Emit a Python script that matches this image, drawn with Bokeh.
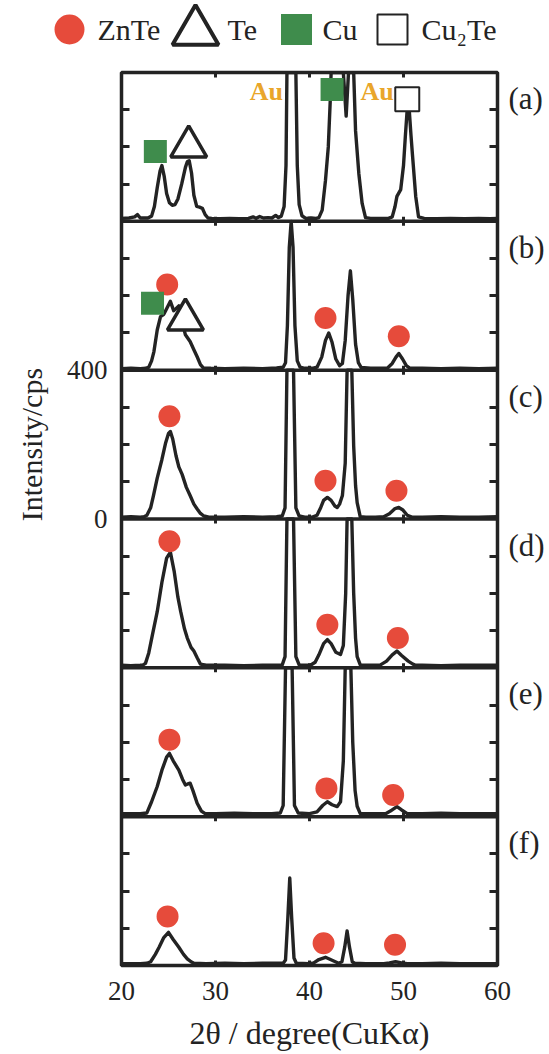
import numpy as np
from math import pi
from bokeh.plotting import figure
from bokeh.layouts import column, row
from bokeh.models import Range1d, LinearAxis, FixedTicker, Span
from bokeh.core.properties import value
from bokeh.embed import file_html
from bokeh.resources import INLINE

# ---------------- data ----------------
panels = ["a", "b", "c", "d", "e", "f"]
panel_full_scale = 400          # cps shown in each panel
x_ticks = [20, 30, 40, 50, 60]
panel_y_ticks = [100, 200, 300]

# XRD traces, 2theta (deg) and intensity (cps); values at 400 mark where the
# trace leaves the top of its panel
tt_a = [20.0, 20.8, 21.4, 21.7, 22.0, 22.8, 23.2, 23.5, 23.8, 24.1, 24.3, 24.55, 24.8, 25.1, 25.4,
        25.7, 26.0, 26.4, 26.8, 27.0, 27.2, 27.45, 27.7, 28.0, 28.3, 28.6, 28.9, 29.2, 29.6, 30.5,
        31.5, 32.5, 33.5, 34.0, 34.3, 34.7, 35.1, 35.6, 36.0, 36.4, 36.7, 37.0, 37.3, 37.5, 37.6,
        38.55, 38.7, 38.9, 39.2, 39.6, 40.2, 40.7, 41.0, 41.35, 41.7, 42.0, 42.2, 42.3, 43.6, 43.9,
        44.15, 44.7, 44.9, 45.25, 45.6, 45.96, 46.5, 47.5, 48.4, 48.8, 49.1, 49.3, 49.7, 50.0,
        50.2, 50.5, 50.8, 50.95, 51.3, 51.6, 52.2, 53.5, 55.0, 56.5, 58.0, 59.2, 60.0]
cps_a = [8, 9, 12, 18, 9, 9, 14, 40, 90, 135, 150, 120, 75, 50, 43,
         45, 60, 100, 145, 160, 163, 130, 70, 40, 38, 35, 18, 9, 8, 7,
         8, 7, 8, 12, 8, 13, 9, 10, 9, 16, 10, 14, 40, 150, 400,
         400, 150, 45, 15, 8, 9, 8, 10, 30, 110, 200, 320, 400, 400, 283,
         400, 400, 243, 128, 48, 10, 8, 8, 8, 12, 40, 67, 85, 150,
         230, 340, 230, 180, 67, 12, 8, 7, 8, 7, 8, 7, 8]

tt_b = [20.0, 21.0, 22.0, 22.6, 22.9, 23.2, 23.45, 23.8, 24.15, 24.5, 24.8, 25.2, 25.55, 25.8,
        26.1, 26.45, 26.8, 27.3, 27.7, 28.05, 28.4, 28.7, 29.5, 31.0, 33.0, 35.0, 36.5, 37.2,
        37.45, 37.65, 37.85, 38.05, 38.25, 38.45, 38.7, 39.0, 39.5, 40.3, 40.8, 41.3, 41.7, 42.05,
        42.4, 42.8, 43.2, 43.5, 43.8, 44.1, 44.35, 44.6, 44.9, 45.2, 45.5, 46.5, 47.5, 48.3, 48.8,
        49.2, 49.5, 49.9, 50.3, 50.7, 52.0, 54.0, 56.0, 58.0, 60.0]
cps_b = [4, 5, 4, 5, 8, 25, 50, 108, 144, 150, 165, 185, 160, 165,
         173, 130, 95, 77, 55, 36, 15, 6, 5, 4, 5, 4, 6, 8,
         20, 120, 330, 400, 330, 120, 25, 8, 5, 5, 8, 35, 80, 100,
         75, 30, 12, 18, 80, 200, 267, 190, 70, 20, 7, 5, 5, 6, 18,
         35, 45, 30, 12, 5, 5, 4, 5, 4, 5]

tt_c = [20.0, 21.0, 22.0, 22.4, 22.7, 23.1, 23.4, 23.8, 24.3, 24.7, 25.0, 25.2, 25.45, 25.8, 26.1,
        26.45, 26.9, 27.3, 27.7, 28.05, 28.4, 28.76, 29.3, 31.0, 33.0, 35.0, 36.5, 37.1, 37.4, 37.6,
        38.3, 38.55, 38.9, 39.5, 40.3, 40.8, 41.2, 41.5, 41.9, 42.3, 42.7, 42.95, 43.2, 43.5, 43.8,
        44.0, 44.5, 44.7, 44.9, 45.07, 45.4, 46.0, 47.0, 47.9, 48.5, 49.1, 49.5, 49.9, 50.4, 50.9,
        52.0, 54.0, 56.0, 58.0, 60.0]
cps_c = [5, 6, 5, 6, 10, 30, 63, 110, 160, 205, 230, 235, 215, 170, 140,
         120, 85, 63, 40, 27, 15, 8, 5, 5, 6, 5, 6, 8, 30, 400,
         400, 30, 8, 5, 5, 10, 31, 50, 58, 50, 35, 31, 40, 63, 150,
         400, 400, 196, 90, 44, 6, 5, 5, 6, 14, 28, 31, 25, 10, 5,
         5, 6, 5, 5, 6]

tt_d = [20.0, 21.0, 22.0, 22.3, 22.55, 22.9, 23.3, 23.8, 24.3, 24.8, 25.2, 25.6, 26.0, 26.3, 26.7,
        27.0, 27.4, 27.7, 28.05, 28.4, 29.0, 31.0, 33.0, 35.0, 36.5, 37.1, 37.4, 37.6, 38.3, 38.55,
        38.9, 40.1, 40.6, 41.0, 41.5, 41.9, 42.3, 42.8, 43.3, 43.6, 43.85, 44.0, 44.5, 44.7, 44.9,
        45.07, 45.4, 46.5, 47.55, 48.2, 48.8, 49.3, 49.8, 50.5, 51.0, 51.3, 52.0, 54.0, 56.0, 58.0, 60.0]
cps_d = [7, 6, 7, 8, 12, 40, 90, 151, 230, 295, 311, 260, 190, 151, 105,
         80, 55, 45, 27, 10, 7, 7, 6, 7, 7, 8, 30, 400, 400, 30,
         8, 7, 15, 35, 65, 76, 65, 42, 36, 60, 200, 400, 400, 200, 80,
         30, 8, 7, 8, 18, 35, 45, 33, 18, 10, 7, 7, 6, 7, 7, 7]

tt_e = [20.0, 21.0, 22.0, 22.7, 23.2, 23.8, 24.3, 24.8, 25.1, 25.5, 26.1, 26.5, 26.8, 27.05, 27.3,
        27.6, 28.05, 28.5, 28.9, 30.0, 32.0, 34.0, 36.0, 36.9, 37.2, 37.45, 38.15, 38.4, 38.8, 40.0,
        40.8, 41.4, 41.9, 42.4, 42.95, 43.3, 43.6, 43.8, 44.4, 44.6, 44.85, 45.07, 45.4, 46.5, 48.1,
        48.6, 49.3, 49.8, 50.4, 52.0, 54.0, 56.0, 58.0, 60.0]
cps_e = [8, 8, 8, 10, 40, 81, 125, 160, 170, 150, 125, 100, 85, 88, 90,
         70, 36, 15, 8, 8, 9, 8, 8, 10, 30, 400, 400, 30, 10, 8,
         13, 30, 40, 32, 27, 40, 150, 400, 400, 200, 70, 28, 8, 8, 8,
         15, 27, 18, 8, 8, 9, 8, 8, 8]

tt_f = [20.0, 21.0, 22.0, 22.7, 23.1, 23.6, 24.0, 24.5, 25.0, 25.5, 26.1, 26.6, 27.0, 27.4, 27.7,
        29.0, 31.0, 33.0, 35.0, 37.2, 37.45, 37.7, 37.9, 38.1, 38.35, 38.6, 40.0, 40.45, 41.0, 41.7,
        42.4, 43.1, 43.45, 43.75, 44.0, 44.25, 44.55, 44.8, 46.0, 47.9, 48.5, 49.15, 49.8, 50.4,
        52.0, 54.0, 56.0, 58.0, 60.0]
cps_f = [5, 5, 5, 6, 10, 30, 49, 75, 89, 70, 49, 30, 18, 10, 6,
         5, 6, 5, 6, 6, 15, 130, 235, 130, 20, 6, 5, 7, 16, 22,
         14, 6, 10, 50, 93, 50, 10, 6, 5, 5, 7, 10, 7, 5,
         5, 6, 5, 5, 5]

# phase assignments drawn above the peaks: panel, 2theta, cps
znte_panel = ["b", "b", "b", "c", "c", "c", "d", "d", "d", "e", "e", "e", "f", "f", "f"]
znte_tt = [24.86, 41.7, 49.5, 25.1, 41.7, 49.25, 25.1, 41.9, 49.4, 25.1, 41.8, 48.9, 24.9, 41.5, 49.1]
znte_cps = [230, 140, 91, 276, 103, 76, 340, 116, 80, 207, 76, 58, 132, 60, 56]

te_panel = ["a", "b"]
te_tt = [27.15, 26.8]
te_cps = [201, 136]

cu_panel = ["a", "a", "b"]
cu_tt = [23.6, 42.4, 23.3]
cu_cps = [188, 354, 180]

cu2te_panel = ["a"]
cu2te_tt = [50.4]
cu2te_cps = [328]

au_panel = ["a", "a"]
au_tt = [35.4, 47.2]
au_cps = [349, 349]

traces = {"a": (tt_a, cps_a), "b": (tt_b, cps_b), "c": (tt_c, cps_c),
          "d": (tt_d, cps_d), "e": (tt_e, cps_e), "f": (tt_f, cps_f)}

# ---------------- styles ----------------
FONT = "Liberation Serif"
INK = "#232323"
RED = "#e64b3b"
GREEN = "#3f8c4c"
GOLD = "#e9a62b"

n = len(panels)
offset = {k: (n - 1 - i) * panel_full_scale for i, k in enumerate(panels)}
y_total = n * panel_full_scale


def stacked(panel_list, cps_list):
    return [c + offset[k] for k, c in zip(panel_list, cps_list)]


FRAME_H = 893
BORDER_TOP = 12
BORDER_BOTTOM = 89
LABEL_STRIP_W = 60

# ---------------- legend strip ----------------
h = figure(width=549, height=60, x_range=Range1d(0, 549), y_range=Range1d(0, 60),
           output_backend="svg", toolbar_location=None, min_border=0,
           x_axis_location=None, y_axis_location=None)
h.frame_align = False
h.grid.visible = False
h.outline_line_color = None

key_x = [69, 195, 296, 392]
key_text_x = [97, 227, 322, 421]
key_y = 31
h.scatter([key_x[0]], [key_y], marker="circle", size=30, fill_color=RED, line_color=None)
h.scatter([key_x[1]], [key_y - 2], marker="triangle", size=46, fill_color="white",
          line_color=INK, line_width=4)
h.scatter([key_x[2]], [key_y], marker="square", size=31, fill_color=GREEN, line_color=None)
h.scatter([key_x[3]], [key_y], marker="square", size=30, fill_color="white",
          line_color=INK, line_width=2)
h.text(x=key_text_x, y=[key_y] * 4, text=["ZnTe", "Te", "Cu", "Cu\u2082Te"],
       text_font=value(FONT), text_font_size="30px", text_color=INK,
       text_baseline="middle", text_align="left")

# ---------------- shared intensity title strip ----------------
lf = figure(width=LABEL_STRIP_W, frame_height=FRAME_H, x_range=Range1d(0, LABEL_STRIP_W),
            y_range=Range1d(0, y_total), output_backend="svg", toolbar_location=None,
            min_border_left=0, min_border_right=0, min_border_top=BORDER_TOP,
            min_border_bottom=BORDER_BOTTOM, x_axis_location=None, y_axis_location=None)
lf.grid.visible = False
lf.outline_line_color = None
lf.text(x=[31], y=[offset["c"] + 200], text=["Intensity/cps"], angle=pi / 2,
        text_font=value(FONT), text_font_size="30px", text_color=INK,
        text_align="center", text_baseline="middle")

# ---------------- stacked panels ----------------
p = figure(frame_width=376, frame_height=FRAME_H,
           x_range=Range1d(x_ticks[0], x_ticks[-1]), y_range=Range1d(0, y_total),
           output_backend="svg", toolbar_location=None,
           min_border_left=121 - LABEL_STRIP_W, min_border_right=52,
           min_border_top=BORDER_TOP, min_border_bottom=BORDER_BOTTOM)
p.grid.visible = False
p.outline_line_color = INK
p.outline_line_width = 3.5

# panel separators
for i in range(1, n):
    p.add_layout(Span(location=i * panel_full_scale, dimension="width",
                      line_color=INK, line_width=3.5))

# inner y ticks of every panel
inner_y = sorted(offset[k] + t for k in panels for t in panel_y_ticks)

# left axis: only panel (c) carries numbers
yax = p.yaxis[0]
yax.ticker = FixedTicker(ticks=[offset["c"], offset["c"] + panel_full_scale], minor_ticks=inner_y)
yax.major_label_overrides = {offset["c"]: "0",
                             offset["c"] + panel_full_scale: str(panel_full_scale)}
yax.major_label_text_font = FONT
yax.major_label_text_font_size = "27px"
yax.major_label_text_color = INK
yax.major_label_standoff = 14
yax.major_tick_line_color = None
yax.major_tick_out = 0
yax.minor_tick_in = 8
yax.minor_tick_out = 0
yax.minor_tick_line_width = 3
yax.minor_tick_line_color = INK
yax.axis_line_color = None

# right axis: panel tags, plus inward ticks
tag_pos = [offset[k] + 330 for k in panels]
rax = LinearAxis(ticker=FixedTicker(ticks=tag_pos, minor_ticks=inner_y),
                 major_label_overrides={t: "(%s)" % k for t, k in zip(tag_pos, panels)},
                 major_label_text_font=FONT, major_label_text_font_size="31px",
                 major_label_text_color=INK, major_label_standoff=11,
                 major_tick_line_color=None, major_tick_in=0, major_tick_out=0,
                 minor_tick_in=8, minor_tick_out=0, minor_tick_line_width=3,
                 minor_tick_line_color=INK, axis_line_color=None)
p.add_layout(rax, "right")

xax = p.xaxis[0]
xax.ticker = FixedTicker(ticks=x_ticks)
xax.major_label_text_font = FONT
xax.major_label_text_font_size = "27px"
xax.major_label_text_color = INK
xax.major_label_standoff = 16
xax.major_tick_in = 5
xax.major_tick_out = 0
xax.major_tick_line_width = 3
xax.major_tick_line_color = INK
xax.minor_tick_line_color = None
xax.axis_line_color = None
xax.axis_label = "2\u03b8 / degree(CuK\u03b1)"
xax.axis_label_text_font = FONT
xax.axis_label_text_font_size = "32px"
xax.axis_label_text_font_style = "normal"
xax.axis_label_text_color = INK
xax.axis_label_standoff = 12

tax = LinearAxis(ticker=FixedTicker(ticks=[], minor_ticks=x_ticks[1:-1]),
                 major_tick_line_color=None, minor_tick_in=5, minor_tick_out=0,
                 minor_tick_line_width=3, minor_tick_line_color=INK, axis_line_color=None)
p.add_layout(tax, "above")

# small x ticks on the inner panel boundaries
inner_x = x_ticks[1:-1]
for i in range(1, n):
    b = i * panel_full_scale
    p.segment(x0=inner_x, y0=[b - 12] * len(inner_x), x1=inner_x, y1=[b + 12] * len(inner_x),
              line_color=INK, line_width=3)

# traces
for k in panels:
    tt, cps = traces[k]
    p.line(tt, np.asarray(cps) + offset[k], line_color=INK, line_width=3.4,
           line_join="round")

# phase markers
p.scatter(znte_tt, stacked(znte_panel, znte_cps), marker="circle", size=22,
          fill_color=RED, line_color=None)
p.scatter(te_tt, stacked(te_panel, te_cps), marker="triangle", size=36,
          fill_color="white", line_color=INK, line_width=3.5)
p.scatter(cu_tt, stacked(cu_panel, cu_cps), marker="square", size=23,
          fill_color=GREEN, line_color=None)
p.scatter(cu2te_tt, stacked(cu2te_panel, cu2te_cps), marker="square", size=24,
          fill_color="white", line_color=INK, line_width=2)
p.text(au_tt, stacked(au_panel, au_cps), text=["Au"] * len(au_tt), text_font=value(FONT),
       text_font_size="26px", text_font_style="bold", text_color=GOLD,
       text_align="center", text_baseline="middle")

layout = column(h, row(lf, p, spacing=0), spacing=0)
open("out.html", "w").write(file_html(layout, INLINE))
